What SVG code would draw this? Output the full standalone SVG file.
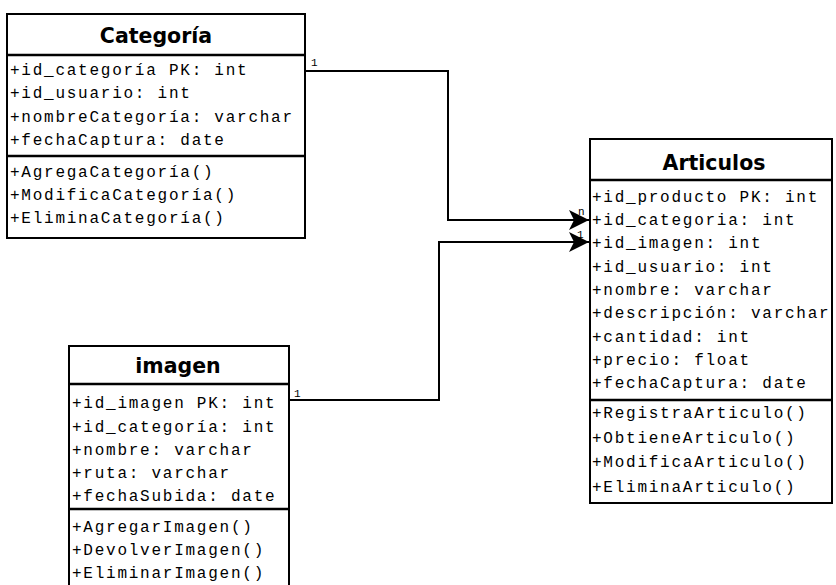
<svg xmlns="http://www.w3.org/2000/svg" width="836" height="585" viewBox="0 0 836 585">
<defs>
<style>
.box{fill:#fff;stroke:#000;stroke-width:2}
.sep{stroke:#000;stroke-width:2.5;fill:none}
.title{font-family:"DejaVu Sans",Verdana,sans-serif;font-weight:bold;font-size:20.5px;fill:#000;text-anchor:middle}
.m{font-family:"Liberation Mono","Courier New",monospace;font-size:16px;letter-spacing:1.75px;fill:#000}
.lbl{font-family:"Liberation Mono","Courier New",monospace;font-size:11px;fill:#000}
.edge{fill:none;stroke:#000;stroke-width:2}
</style>
<marker id="arr" viewBox="0 0 20 20" refX="20" refY="10" markerWidth="20" markerHeight="20" markerUnits="userSpaceOnUse" orient="auto">
<path d="M0,0 L20,10 L0,20 L5,10 Z" fill="#000"/>
</marker>
</defs>
<rect width="836" height="585" fill="#fff"/>

<g id="categoria">
<rect class="box" x="7" y="14" width="298" height="224"/>
<line class="sep" x1="7" y1="55" x2="305" y2="55"/>
<line class="sep" x1="7" y1="156" x2="305" y2="156"/>
<text class="title" x="156" y="43">Categoría</text>
<text class="m" x="10" y="75">+id_categoría PK: int</text>
<text class="m" x="10" y="98">+id_usuario: int</text>
<text class="m" x="10" y="122">+nombreCategoría: varchar</text>
<text class="m" x="10" y="145">+fechaCaptura: date</text>
<text class="m" x="10" y="177">+AgregaCategoría()</text>
<text class="m" x="10" y="200">+ModificaCategoría()</text>
<text class="m" x="10" y="223">+EliminaCategoría()</text>
</g>

<g id="articulos">
<rect class="box" x="590" y="139" width="242" height="364"/>
<line class="sep" x1="590" y1="180" x2="832" y2="180"/>
<line class="sep" x1="590" y1="400" x2="832" y2="400"/>
<text class="title" x="714" y="170">Articulos</text>
<text class="m" x="592" y="202">+id_producto PK: int</text>
<text class="m" x="592" y="225">+id_categoria: int</text>
<text class="m" x="592" y="248">+id_imagen: int</text>
<text class="m" x="592" y="272">+id_usuario: int</text>
<text class="m" x="592" y="295">+nombre: varchar</text>
<text class="m" x="592" y="318">+descripción: varchar</text>
<text class="m" x="592" y="342">+cantidad: int</text>
<text class="m" x="592" y="365">+precio: float</text>
<text class="m" x="592" y="388">+fechaCaptura: date</text>
<text class="m" x="592" y="418">+RegistraArticulo()</text>
<text class="m" x="592" y="443">+ObtieneArticulo()</text>
<text class="m" x="592" y="467">+ModificaArticulo()</text>
<text class="m" x="592" y="492">+EliminaArticulo()</text>
</g>

<g id="imagen">
<rect class="box" x="69" y="346" width="220" height="260"/>
<line class="sep" x1="69" y1="384" x2="289" y2="384"/>
<line class="sep" x1="69" y1="509" x2="289" y2="509"/>
<text class="title" x="178" y="373">imagen</text>
<text class="m" x="72" y="408">+id_imagen PK: int</text>
<text class="m" x="72" y="432">+id_categoría: int</text>
<text class="m" x="72" y="455">+nombre: varchar</text>
<text class="m" x="72" y="478">+ruta: varchar</text>
<text class="m" x="72" y="501">+fechaSubida: date</text>
<text class="m" x="72" y="532">+AgregarImagen()</text>
<text class="m" x="72" y="555">+DevolverImagen()</text>
<text class="m" x="72" y="578">+EliminarImagen()</text>
</g>

<g id="connectors">
<text class="lbl" x="311" y="66">1</text>
<text class="lbl" x="578" y="215">n</text>
<text class="lbl" x="294" y="397">1</text>
<text class="lbl" x="577" y="238">1</text>
<path class="edge" d="M305,71 H448 V220 H589" marker-end="url(#arr)"/>
<path class="edge" d="M289,400 H439 V242 H589" marker-end="url(#arr)"/>
</g>
</svg>
